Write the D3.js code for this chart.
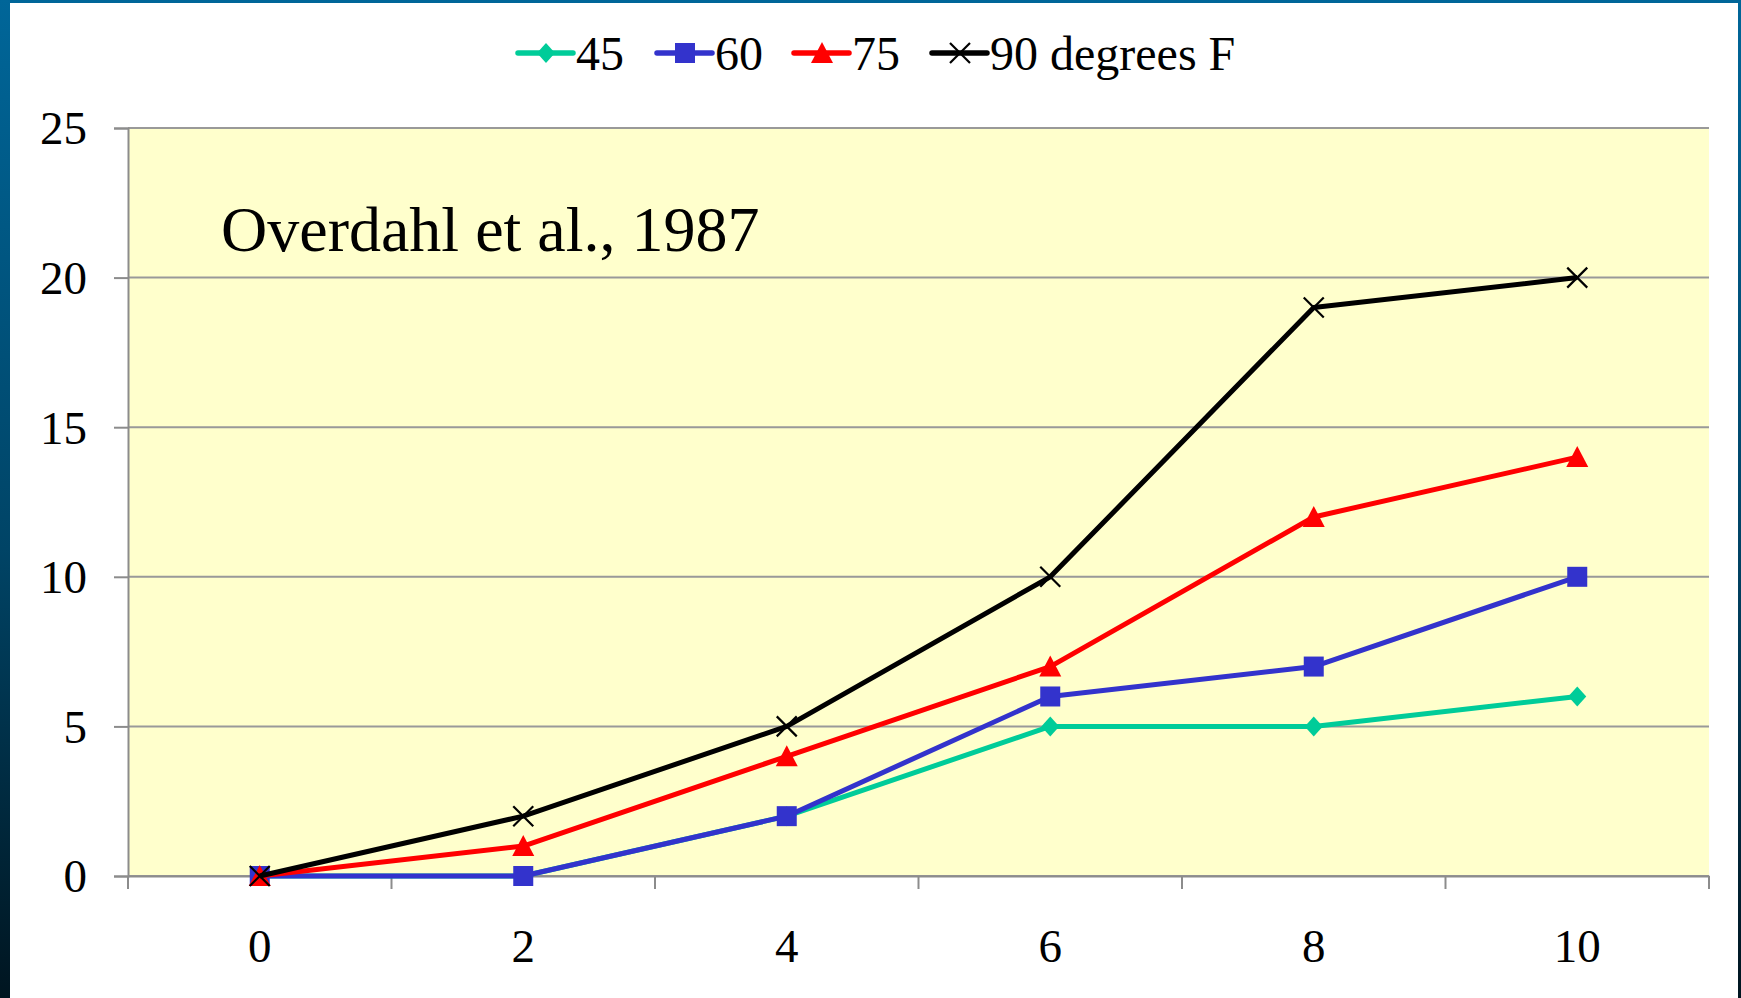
<!DOCTYPE html>
<html><head><meta charset="utf-8">
<script src="https://cdn.jsdelivr.net/npm/d3@7"></script>
<style>
html,body{margin:0;padding:0;width:1741px;height:998px;overflow:hidden;background:#fff}
svg{display:block}
</style></head>
<body>
<svg id="chart" width="1741" height="998"></svg>
<script>
const categories = ["0","2","4","6","8","10"];
const seriesNames = ["45","60","75","90 degrees F"];
const s45 = [0,0,2,5,5,6];
const s60 = [0,0,2,6,7,10];
const s75 = [0,1,4,7,12,14];
const s90 = [0,2,5,10,19,20];
const yTicks = [0,5,10,15,20,25];
const annotation = "Overdahl et al., 1987";

const colors = ["#00cc99","#3333cc","#ff0000","#000000"];
const shapes = ["diamond","square","triangle","x"];
const seriesData = [s45,s60,s75,s90];

const svg = d3.select("#chart");
const W = 1741, H = 998;
const defs = svg.append("defs");
const lg = defs.append("linearGradient").attr("id","bg").attr("x1",0).attr("y1",0).attr("x2",0).attr("y2",1);
lg.append("stop").attr("offset","0%").attr("stop-color","#006699");
lg.append("stop").attr("offset","55%").attr("stop-color","#004466");
lg.append("stop").attr("offset","100%").attr("stop-color","#001520");
svg.append("rect").attr("width",W).attr("height",H).attr("fill","url(#bg)");
svg.append("rect").attr("x",10).attr("y",3).attr("width",1728).attr("height",H-3).attr("fill","#fff");

const m = {left:128, top:128, right:1709, bottom:876};
const x = d3.scaleBand().domain(categories).range([m.left,m.right]);
const y = d3.scaleLinear().domain([0,25]).range([m.bottom,m.top]);
const font = "'Liberation Serif','Times New Roman',serif";

svg.append("rect").attr("x",m.left).attr("y",m.top).attr("width",m.right-m.left).attr("height",m.bottom-m.top).attr("fill","#ffffcc");

// grid
svg.append("g").selectAll("line").data(yTicks).join("line")
  .attr("x1",m.left).attr("x2",m.right).attr("y1",d=>y(d)).attr("y2",d=>y(d))
  .attr("stroke","#999").attr("stroke-width",2);

// y axis
const yAxis = svg.append("g").attr("transform",`translate(${m.left},0)`)
  .call(d3.axisLeft(y).tickValues(yTicks).tickSize(14).tickPadding(27).tickFormat(d3.format("d")));
yAxis.select(".domain").attr("stroke","#8c8c8c").attr("stroke-width",2);
yAxis.selectAll(".tick line").attr("stroke","#8c8c8c").attr("stroke-width",2);
yAxis.selectAll("text").attr("font-family",font).attr("font-size",47).attr("fill","#000").attr("dy","0.34em");

// x axis
const xAxis = svg.append("g").attr("transform",`translate(0,${m.bottom})`)
  .call(d3.axisBottom(x).tickSize(0).tickPadding(0));
xAxis.select(".domain").attr("stroke","#8c8c8c").attr("stroke-width",2);
xAxis.selectAll(".tick line").remove();
xAxis.selectAll("text").attr("font-family",font).attr("font-size",47).attr("fill","#000").attr("dy",0).attr("y",86);
// category boundary ticks
const bounds = categories.map(c=>x(c)).concat([m.right]);
svg.append("g").selectAll("line").data(bounds).join("line")
  .attr("x1",d=>d).attr("x2",d=>d).attr("y1",m.bottom).attr("y2",m.bottom+13)
  .attr("stroke","#8c8c8c").attr("stroke-width",2);

const cx = c => x(c) + x.bandwidth()/2;

function marker(g, shape, color, px, py){
  if(shape==="diamond"){
    g.append("path").attr("d",`M${px},${py-10}L${px+9},${py}L${px},${py+10}L${px-9},${py}Z`).attr("fill",color);
  } else if(shape==="square"){
    g.append("rect").attr("x",px-10).attr("y",py-10).attr("width",20).attr("height",20).attr("fill",color);
  } else if(shape==="triangle"){
    g.append("path").attr("d",`M${px},${py-11}L${px+11},${py+10}L${px-11},${py+10}Z`).attr("fill",color);
  } else {
    g.append("path").attr("d",`M${px-10},${py-10}L${px+10},${py+10}M${px-10},${py+10}L${px+10},${py-10}`)
      .attr("stroke",color).attr("stroke-width",2.2).attr("fill","none");
  }
}

const line = d3.line().x((d,i)=>cx(categories[i])).y(d=>y(d));
seriesData.forEach((data,si)=>{
  const g = svg.append("g");
  g.append("path").attr("d",line(data)).attr("fill","none").attr("stroke",colors[si]).attr("stroke-width",5).attr("stroke-linejoin","round");
  data.forEach((v,i)=>marker(g,shapes[si],colors[si],cx(categories[i]),y(v)));
});

// annotation
svg.append("text").attr("x",221).attr("y",251).attr("font-family",font).attr("font-size",64).attr("fill","#000").text(annotation);

// legend
const legendX = [518,657,794,932];
const legendY = 53;
seriesNames.forEach((n,i)=>{
  const g = svg.append("g");
  const x0 = legendX[i];
  g.append("line").attr("x1",x0).attr("x2",x0+55).attr("y1",legendY).attr("y2",legendY)
    .attr("stroke",colors[i]).attr("stroke-width",5.5).attr("stroke-linecap","round");
  marker(g,shapes[i],colors[i],x0+28,legendY);
  g.append("text").attr("x",x0+58).attr("y",legendY+17).attr("font-family",font).attr("font-size",48).attr("fill","#000").text(n);
});
</script>
</body></html>
